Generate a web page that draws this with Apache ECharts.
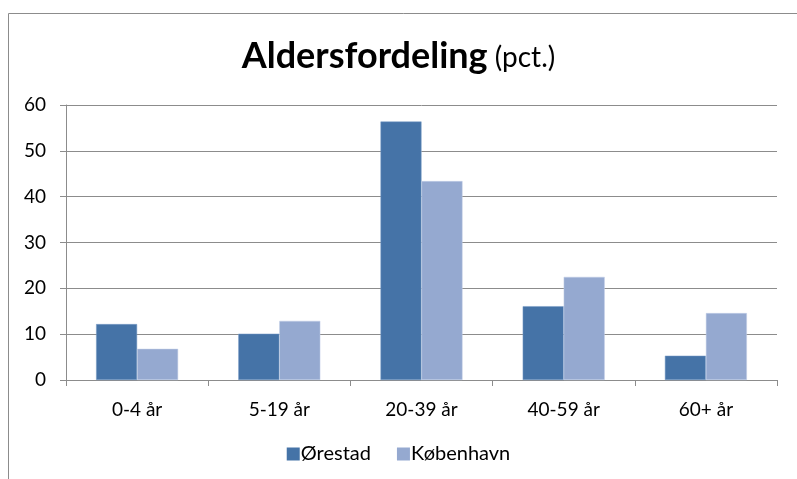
<!DOCTYPE html>
<html><head><meta charset="utf-8">
<script src="https://cdn.jsdelivr.net/npm/echarts@6/dist/echarts.min.js"></script>
<style>html,body{margin:0;padding:0;background:#fff}#c{width:797px;height:479px}</style>
</head><body><div id="c"></div>
<script>
const categories = ['0-4 år', '5-19 år', '20-39 år', '40-59 år', '60+ år'];
const orestad = [12.2, 10.1, 56.4, 16.1, 5.3];
const kobenhavn = [6.8, 12.9, 43.4, 22.5, 14.6];
const yTicks = [0, 10, 20, 30, 40, 50, 60];

const chart = echarts.init(document.getElementById('c'));
const font = 'Lato, "Open Sans", sans-serif';
chart.setOption({
  animation: false,
  graphic: [{type: 'rect', shape: {x: 8.5, y: 13.5, width: 900, height: 600}, style: {fill: 'none', stroke: '#8c8c8c', lineWidth: 1}, silent: true}],
  title: {
    left: 'center', top: 33,
    text: '{a|Aldersfordeling}{b| (pct.)}',
    textStyle: {rich: {
      a: {fontFamily: font, fontWeight: 'bold', fontSize: 36, color: '#000'},
      b: {fontFamily: font, fontWeight: 'normal', fontSize: 28, color: '#000', padding: [4, 0, 0, 0]}
    }}
  },
  legend: {
    bottom: 10, left: 'center', itemWidth: 13, itemHeight: 13, itemGap: 26, icon: 'rect',
    itemStyle: {borderWidth: 0},
    textStyle: {fontFamily: font, fontSize: 20, color: '#000', padding: [0, 0, 0, -4]},
    data: ['Ørestad', 'København']
  },
  grid: {left: 66, right: 20, top: 105, bottom: 99},
  xAxis: {
    type: 'category', data: categories,
    axisLine: {lineStyle: {color: '#8c8c8c'}},
    axisTick: {show: true, length: 6, lineStyle: {color: '#8c8c8c'}},
    axisLabel: {fontFamily: font, fontSize: 19, color: '#000', margin: 20}
  },
  yAxis: {
    type: 'value', min: yTicks[0], max: yTicks[yTicks.length - 1], interval: 10,
    axisLine: {show: true, lineStyle: {color: '#8c8c8c'}},
    axisTick: {show: true, length: 6, lineStyle: {color: '#8c8c8c'}},
    splitLine: {lineStyle: {color: '#8c8c8c'}},
    axisLabel: {fontFamily: font, fontSize: 19, color: '#000', margin: 20}
  },
  series: [
    {name: 'Ørestad', type: 'bar', data: orestad, barWidth: 41, barGap: '0%',
      itemStyle: {color: '#4573A7', borderColor: '#7b9cc6', borderWidth: 0.5}},
    {name: 'København', type: 'bar', data: kobenhavn, barWidth: 41,
      itemStyle: {color: '#95A9D0', borderColor: '#c2cfe6', borderWidth: 0.5}}
  ]
});
</script></body></html>
